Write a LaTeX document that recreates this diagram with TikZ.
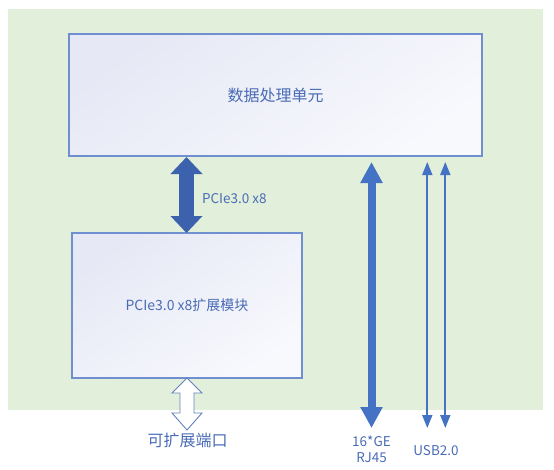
\documentclass[tikz,border=0pt]{standalone}
\usepackage{fontspec}
\setmainfont{Noto Sans CJK SC}
\usetikzlibrary{arrows.meta}
\definecolor{bggreen}{HTML}{E2EFDA}
\definecolor{boxline}{HTML}{6F8FD0}
\definecolor{lav}{HTML}{E6E8F5}
\definecolor{lavlight}{HTML}{F8F9FD}
\definecolor{txtblue}{HTML}{4A6CB6}
\definecolor{arrdark}{HTML}{3D62AD}
\definecolor{arrblue}{HTML}{4472C4}
\tikzset{
  unitbox/.style={draw=boxline, line width=1.2pt, top color=lav, bottom color=lavlight, shading angle=35},
  boxtext/.style={text=txtblue, font=\fontsize{#1}{#1}\selectfont},
  lbl/.style={text=txtblue, font=\fontsize{#1}{#1}\selectfont, align=center},
  fatarrow/.style={draw=arrdark, line width=15pt, {Triangle[length=17pt,width=31pt]}-{Triangle[length=17pt,width=31pt]}},
  gearrow/.style={draw=arrblue, line width=8pt, {Triangle[length=21pt,width=21pt]}-{Triangle[length=21pt,width=21pt]}},
  usbarrow/.style={draw=arrblue, line width=1.8pt, {Triangle[length=13pt,width=10pt]}-{Triangle[length=13pt,width=10pt]}},
  hollow/.style={draw=arrdark!80, line width=0.9pt, fill=white, line join=miter}
}
\begin{document}
\begin{tikzpicture}[x=1pt,y=-1pt]
\useasboundingbox (0,0) rectangle (554,469);
\fill[bggreen] (8,9) rectangle (543,410);
% boxes
\path[unitbox] (69,34) rectangle (482,156);
\node[boxtext=16] (dpu) at (275.5,95) {数据处理单元};
\path[unitbox] (72,233) rectangle (302,378);
\node[boxtext=14] (ext) at (187,305) {PCIe3.0 x8扩展模块};
% named anchor points
\coordinate (pA) at (186.5,157);
\coordinate (pB) at (186.5,233);
\coordinate (gA) at (371.5,162);
\coordinate (gB) at (371.5,428);
\coordinate (u1A) at (427.3,162);
\coordinate (u1B) at (427.3,428);
\coordinate (u2A) at (445.3,162);
\coordinate (u2B) at (445.3,428);
% arrows
\draw[fatarrow] (pA) -- (pB);
\node[lbl=13.5, anchor=west] (pcielbl) at (198.5,199) {PCIe3.0 x8};
\draw[gearrow] (gA) -- (gB);
\draw[usbarrow] (u1A) -- (u1B);
\draw[usbarrow] (u2A) -- (u2B);
% hollow double arrow
\draw[hollow] (187,378) -- (202,393) -- (194,393) -- (194,413) -- (202,413) -- (187,430)
  -- (172,413) -- (180,413) -- (180,393) -- (172,393) -- cycle;
% labels
\node[lbl=16] (portlbl) at (187.5,440) {可扩展端口};
\node[lbl=13.5] (gelbl) at (371.5,441) {16*GE};
\node[lbl=13.5] (rjlbl) at (371.5,458) {RJ45};
\node[lbl=13.5] (usblbl) at (436,451) {USB2.0};
\end{tikzpicture}
\end{document}
